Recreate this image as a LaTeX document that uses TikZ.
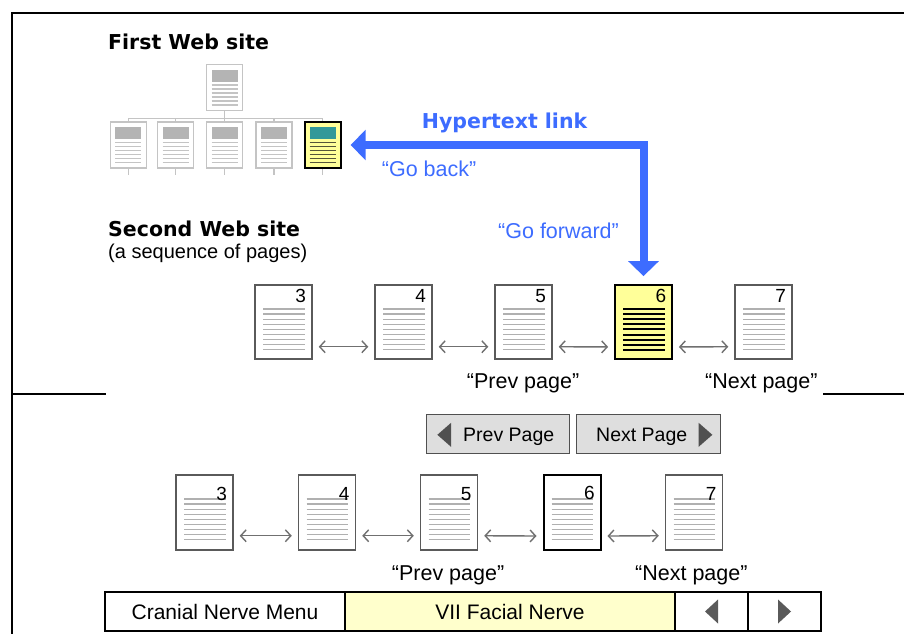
\documentclass[tikz,border=0pt]{standalone}
\usepackage{fontspec}
\setmainfont{Liberation Sans}
\newfontfamily\headfont{DejaVu Sans Bold}
\usetikzlibrary{arrows.meta,calc}

\definecolor{linkblue}{HTML}{3D6CFF}
\definecolor{treegray}{HTML}{C4C4C4}
\definecolor{headgray}{HTML}{B4B4B4}
\definecolor{headteal}{HTML}{339999}
\definecolor{hirule}{HTML}{55553A}
\definecolor{rulegray}{HTML}{B0B0B0}
\definecolor{pagegray}{HTML}{5A5A5A}
\definecolor{arrowgray}{HTML}{707070}
\definecolor{hiyellow}{HTML}{FFFF99}
\definecolor{baryellow}{HTML}{FFFFCC}
\definecolor{btngray}{HTML}{DEDEDE}
\definecolor{btnedge}{HTML}{505050}

% small page glyph of the site tree: header block and text rules
\newcommand\treeglyph[2]{%
  \fill[#1] ([xshift=5pt,yshift=-5pt]path picture bounding box.north west)
    rectangle ([xshift=-5pt,yshift=-17pt]path picture bounding box.north east);
  \foreach \k in {0,...,5}
    \draw[#2, line width=1.5pt]
      ([xshift=5pt,yshift=-20.5pt-4pt*\k]path picture bounding box.north west) --
      ([xshift=-5pt,yshift=-20.5pt-4pt*\k]path picture bounding box.north east);
}
% numbered page of a sequence: nine text rules
\newcommand\seqglyph[2]{%
  \foreach \k in {0,...,8}
    \draw[#1, line width=#2]
      ([xshift=8pt,yshift=-24pt-5.1pt*\k]path picture bounding box.north west) --
      ([xshift=-7.5pt,yshift=-24pt-5.1pt*\k]path picture bounding box.north east);
}

\tikzset{
  frameline/.style={line width=2pt, black},
  treeline/.style={treegray, line width=1.5pt},
  treepage/.style={draw=treegray, line width=1.5pt, fill=white, inner sep=0pt,
    minimum width=36pt, minimum height=46pt, path picture={\treeglyph{headgray}{treegray}}},
  treehi/.style={draw=black, line width=2pt, fill=hiyellow, inner sep=0pt,
    minimum width=36pt, minimum height=46pt, path picture={\treeglyph{headteal}{hirule}}},
  seqpage/.style={draw=pagegray, line width=1.5pt, fill=white, inner sep=0pt,
    minimum width=57pt, minimum height=74pt, path picture={\seqglyph{rulegray}{1.3pt}}},
  seqhi/.style={draw=black, line width=1.8pt, fill=hiyellow, inner sep=0pt,
    minimum width=57pt, minimum height=74pt, path picture={\seqglyph{black}{2pt}}},
  seqcur/.style={seqpage, draw=black, line width=2pt},
  numA/.style={anchor=north east, inner sep=0pt, xshift=-6.5pt, yshift=-5pt,
    font=\fontsize{19}{19}\selectfont},
  numB/.style={numA, yshift=-7.5pt},
  seqarrow/.style={arrowgray, line width=1.4pt,
    {Straight Barb[length=5.5pt,width=12pt]}-{Straight Barb[length=5.5pt,width=12pt]}},
  hyperlink/.style={linkblue, line width=8pt,
    {Triangle[length=15pt,width=30pt]}-{Triangle[length=15pt,width=30pt]}},
  headtext/.style={font=\headfont\fontsize{20.5}{24}\selectfont, inner sep=0pt, anchor=base west},
  bodytext/.style={font=\fontsize{21.5}{25}\selectfont, inner sep=0pt, anchor=base west},
  bluetext/.style={bodytext, text=linkblue},
  btntext/.style={font=\fontsize{19.5}{23}\selectfont, inner sep=0pt, anchor=base west},
  button/.style={draw=btnedge, line width=1.3pt, fill=btngray, inner sep=0pt,
    minimum width=#1, minimum height=39pt},
  navcell/.style={draw=black, line width=1.5pt, inner sep=0pt, minimum width=#1,
    minimum height=39pt, font=\fontsize{21}{25}\selectfont},
}

\begin{document}
\begin{tikzpicture}[x=1pt,y=-1pt]
\useasboundingbox (0,0) rectangle (904,634);
\fill[white] (0,0) rectangle (904,634);

% frame and divider
\draw[frameline] (904,13) -- (11.5,13) -- (11.5,634);
\draw[frameline] (11.5,394) -- (106,394);
\draw[frameline] (823,394) -- (904,394);

% ---- first web site: a tree of pages
\node[headtext] (t1) at (108,50) {First Web site};
\node[treepage] (root) at (224.5,87.5) {};
\foreach \n/\x in {1/128.3,2/175.5,3/224.5,4/274}
  \node[treepage] (hc\n) at (\x,145) {};
\node[treehi] (hc5) at (322.7,145) {};
\coordinate (bar) at ($(root.south)+(0,7)$);
\draw[treeline] (root.south) -- (bar);
\draw[treeline] (hc1.north |- bar) -- (hc5.north |- bar);
\foreach \n in {1,...,5} {
  \draw[treeline] (hc\n.north |- bar) -- (hc\n.north);
  \draw[treeline] (hc\n.south) -- ++(0,6);
}

% ---- second web site: a sequence of pages
\node[headtext] (t2) at (108,236.5) {Second Web site};
\node[bodytext, font=\fontsize{20}{24}\selectfont] (t3) at (108,258) {(a sequence of pages)};

\node[seqpage, label={[numA]north east:3}] (r3) at (283.5,322) {};
\node[seqpage, label={[numA]north east:4}] (r4) at (403.5,322) {};
\node[seqpage, label={[numA]north east:5}] (r5) at (523.5,322) {};
\node[seqhi,   label={[numA]north east:6}] (r6) at (643.5,322) {};
\node[seqpage, label={[numA]north east:7}] (r7) at (763.5,322) {};
\foreach \a/\b in {r3/r4,r4/r5,r5/r6,r6/r7}
  \draw[seqarrow] ([xshift=6pt,yshift=13pt]\a.south east) -- ([xshift=-6pt,yshift=13pt]\b.south west);
\node[bodytext] (rprev) at (466.7,388.3) {“Prev page”};
\node[bodytext] (rnext) at (705,388.3) {“Next page”};

% ---- hypertext link between the sites
\draw[hyperlink] ([xshift=9pt]hc5.east) -| ([yshift=8pt]r6.north);
\node[headtext, text=linkblue] (hl) at (421.7,128.5) {Hypertext link};
\node[bluetext] (gb) at (381.7,176) {“Go back”};
\node[bluetext] (gf) at (498,238.5) {“Go forward”};

% ---- buttons
\node[button=142.6pt] (prevbtn) at (498,433.8) {};
\node[button=144pt] (nextbtn) at (648.7,433.8) {};
\fill[btnedge] ([xshift=11.3pt,yshift=-1pt]prevbtn.west) -- ++(13.7pt,12pt) -- ++(0,-24pt) -- cycle;
\fill[btnedge] ([xshift=-9pt,yshift=-1pt]nextbtn.east) -- ++(-13.7pt,12pt) -- ++(0,-24pt) -- cycle;
\node[btntext] (prevtxt) at (463,441.7) {Prev Page};
\node[btntext] (nexttxt) at (596,441.7) {Next Page};

% ---- lower sequence of pages
\node[seqpage, minimum height=75pt, label={[numB]north east:3}] (s3) at (204.5,512.5) {};
\node[seqpage, minimum height=75pt, label={[numB]north east:4}] (s4) at (327,512.5) {};
\node[seqpage, minimum height=75pt, label={[numB]north east:5}] (s5) at (449,512.5) {};
\node[seqcur,  minimum height=75pt, label={[numB]north east:6}] (s6) at (572,512.5) {};
\node[seqpage, minimum height=75pt, label={[numB]north east:7}] (s7) at (694,512.5) {};
\foreach \a/\b in {s3/s4,s4/s5,s5/s6,s6/s7}
  \draw[seqarrow] ([xshift=6pt,yshift=15pt]\a.south east) -- ([xshift=-6pt,yshift=15pt]\b.south west);
\node[bodytext] (sprev) at (391.7,580) {“Prev page”};
\node[bodytext] (snext) at (635,580) {“Next page”};

% ---- navigation bar
\node[navcell=240pt, fill=white] (menu) at (225,611.5) {Cranial Nerve Menu};
\node[navcell=330pt, fill=baryellow] (topic) at (510,611.5) {VII Facial Nerve};
\node[navcell=73pt, fill=white] (back) at (711.5,611.5) {};
\node[navcell=73pt, fill=white] (fwd) at (784.5,611.5) {};
\fill[pagegray] ([xshift=-6.5pt]back.center) -- ++(13pt,12pt) -- ++(0,-24pt) -- cycle;
\fill[pagegray] ([xshift=6.5pt]fwd.center) -- ++(-13pt,12pt) -- ++(0,-24pt) -- cycle;
\end{tikzpicture}
\end{document}
